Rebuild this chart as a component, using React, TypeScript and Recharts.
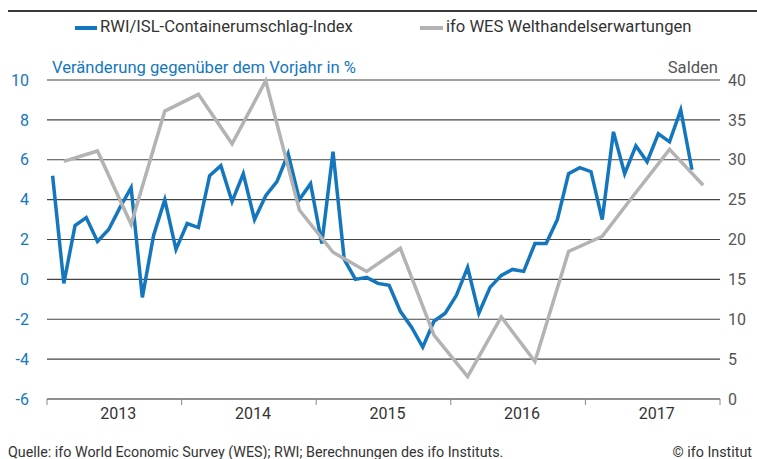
import React from "react";
import { LineChart, Line, XAxis, YAxis, CartesianGrid } from "recharts";

// RWI/ISL-Containerumschlag-Index, monthly, Jan 2013 .. Oct 2017 (% yoy)
const containerIndex = [
  5.2, -0.2, 2.7, 3.1, 1.9, 2.5, 3.6, 4.6, -0.9, 2.2, 4.0, 1.5,
  2.8, 2.6, 5.2, 5.7, 3.9, 5.3, 3.0, 4.2, 4.9, 6.3, 4.0, 4.8,
  1.8, 6.4, 1.0, 0.0, 0.1, -0.2, -0.3, -1.6, -2.4, -3.4, -2.1, -1.7,
  -0.8, 0.6, -1.7, -0.4, 0.2, 0.5, 0.4, 1.8, 1.8, 3.0, 5.3, 5.6,
  5.4, 3.0, 7.4, 5.3, 6.7, 5.9, 7.3, 6.9, 8.5, 5.5,
];

// ifo WES Welthandelserwartungen, quarterly (Feb/May/Aug/Nov), Salden
const tradeExpectations = [
  29.8, 31.1, 21.9, 36.1,
  38.2, 32.0, 39.9, 23.7,
  18.4, 16.0, 18.9, 8.0,
  2.8, 10.3, 4.7, 18.5,
  20.4, 25.9, 31.3, 26.8,
];

const years = ["2013", "2014", "2015", "2016", "2017"];
const leftTicks = [-6, -4, -2, 0, 2, 4, 6, 8, 10];
const rightTicks = [0, 5, 10, 15, 20, 25, 30, 35, 40];

const BLUE = "#1477be";
const GRAY = "#b3b3b3";
const FONT = "Roboto, 'Noto Sans', sans-serif";

const blueData = containerIndex.map((v, i) => ({ x: i + 0.5, v }));
const grayData = tradeExpectations.map((v, i) => ({ x: i * 3 + 1.5, v }));
const xTicks = years.flatMap((_, i) => [i * 12, i * 12 + 6]).concat([years.length * 12]);

const YearTick = (props: any) => {
  const { x, y, payload } = props;
  const m = payload.value;
  if (m % 12 === 0) {
    return <line x1={x} x2={x} y1={y - 8} y2={y - 2} stroke="#888" strokeWidth={1} />;
  }
  return (
    <text x={x + 4} y={y + 12} textAnchor="middle" fontSize={16} fill="#333" fontFamily={FONT}>
      {years[Math.floor(m / 12)]}
    </text>
  );
};

const labelStyle = { position: "absolute" as const, fontSize: 16.6, lineHeight: "20px", whiteSpace: "nowrap" as const };

export default function App() {
  return (
    <div style={{ position: "absolute", left: 0, top: 0, width: 757, height: 459, background: "#fff", fontFamily: FONT }}>
      <div style={{ position: "absolute", left: 8, right: 0, top: 10, height: 2, background: "#3a3a3a" }} />

      {/* legend */}
      <div style={{ position: "absolute", left: 75, top: 26, width: 22, height: 4, background: BLUE }} />
      <div style={{ ...labelStyle, left: 100, top: 17, color: "#333" }}>RWI/ISL-Containerumschlag-Index</div>
      <div style={{ position: "absolute", left: 420, top: 26, width: 23, height: 4, background: GRAY }} />
      <div style={{ ...labelStyle, left: 446, top: 17, color: "#333" }}>ifo WES Welthandelserwartungen</div>

      <div style={{ ...labelStyle, left: 52, top: 58, color: BLUE }}>Veränderung gegenüber dem Vorjahr in %</div>
      <div style={{ ...labelStyle, right: 39, top: 58, color: "#555" }}>Salden</div>

      <div style={{ position: "absolute", left: 0, top: 0 }}>
        <LineChart width={757} height={430} margin={{ top: 80, right: 0, bottom: 0, left: 0 }}>
          <CartesianGrid vertical={false} stroke="#444" strokeWidth={1.2} yAxisId="left" />
          <XAxis
            type="number"
            dataKey="x"
            domain={[0, 60]}
            ticks={xTicks}
            interval={0}
            tick={<YearTick />}
            tickLine={false}
            axisLine={{ stroke: "#888", strokeWidth: 1.5 }}
            height={31}
            allowDuplicatedCategory={false}
          />
          <YAxis
            yAxisId="left"
            domain={[-6, 10]}
            ticks={leftTicks}
            interval={0}
            width={47}
            axisLine={false}
            tickLine={false}
            tickMargin={12}
            tick={{ fill: BLUE, fontSize: 16, fontFamily: FONT }}
          />
          <YAxis
            yAxisId="right"
            orientation="right"
            domain={[0, 40]}
            ticks={rightTicks}
            interval={0}
            width={37}
            axisLine={false}
            tickLine={false}
            tick={{ fill: "#555", fontSize: 16, fontFamily: FONT, textAnchor: "start" }}
          />
          <Line
            yAxisId="left"
            data={blueData}
            dataKey="v"
            stroke={BLUE}
            strokeWidth={3.5}
            dot={false}
            isAnimationActive={false}
          />
          <Line
            yAxisId="right"
            data={grayData}
            dataKey="v"
            stroke={GRAY}
            strokeWidth={3.5}
            dot={false}
            isAnimationActive={false}
          />
        </LineChart>
      </div>

      <div style={{ ...labelStyle, left: 8, top: 443, fontSize: 14.3, lineHeight: "18px", color: "#333" }}>
        Quelle: ifo World Economic Survey (WES); RWI; Berechnungen des ifo Instituts.
      </div>
      <div style={{ ...labelStyle, right: 5, top: 443, fontSize: 14.3, lineHeight: "18px", color: "#333" }}>
        © ifo Institut
      </div>
    </div>
  );
}
